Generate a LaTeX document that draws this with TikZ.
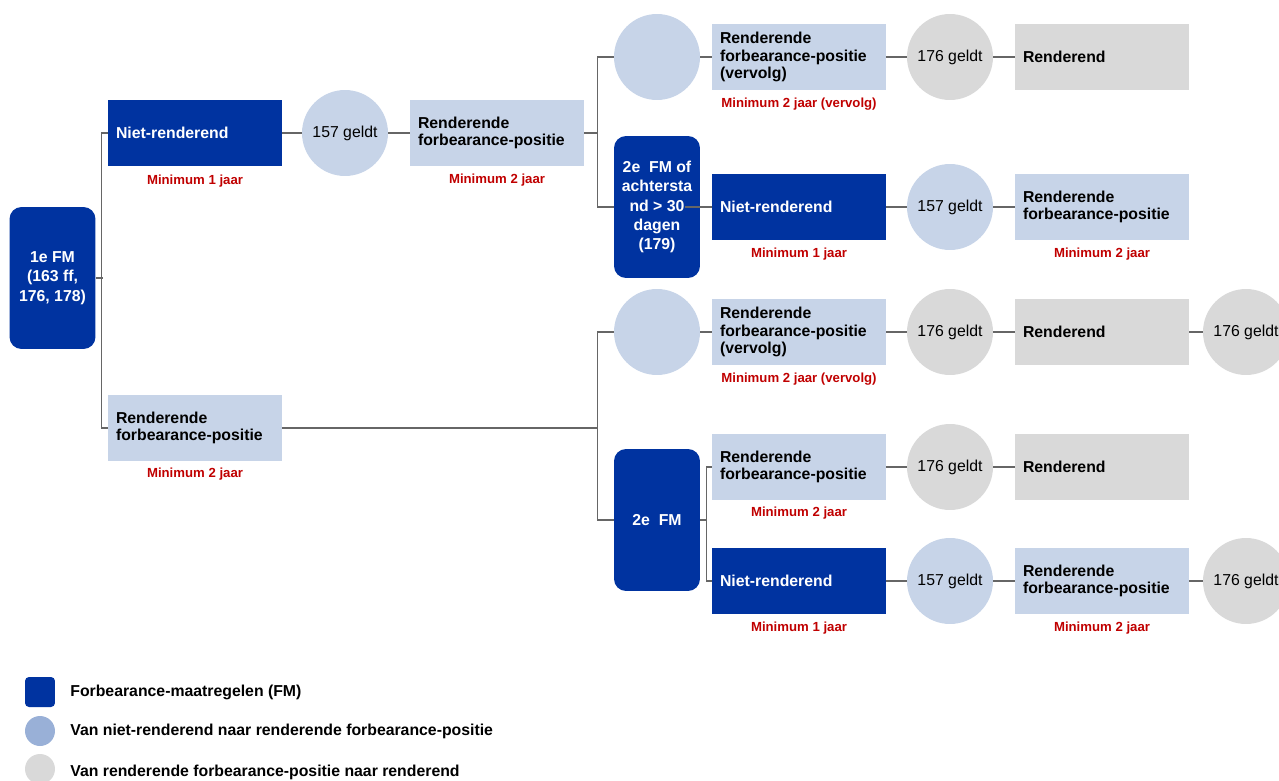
\documentclass[tikz,border=0pt]{standalone}
\usepackage{fontspec}
\setmainfont{Liberation Sans}
\usetikzlibrary{
  calc      % 坐标计算（红色标注的位置）
}
\definecolor{fmblauw}{HTML}{0033A0}
\definecolor{lichtblauw}{HTML}{C7D4E8}
\definecolor{legblauw}{HTML}{99B0D7}
\definecolor{lichtgrijs}{HTML}{D9D9D9}
\definecolor{minrood}{HTML}{C00000}
\definecolor{lijngrijs}{HTML}{666666}

\begin{document}
\begin{tikzpicture}[x=0.02cm, y=-0.02cm,
  fmvak/.style={fill=fmblauw, rounded corners=0.24cm, text=white, align=center,
    minimum width=1.72cm, minimum height=2.84cm, inner sep=0pt,
    font=\bfseries\fontsize{9}{11}\selectfont},
  vak/.style={minimum width=3.48cm, minimum height=1.34cm, text width=3.16cm,
    inner xsep=0.16cm, inner ysep=0pt, align=left,
    font=\bfseries\fontsize{9}{9.8}\selectfont},
  nrvak/.style={vak, fill=fmblauw, text=white},
  rfpvak/.style={vak, fill=lichtblauw},
  rendvak/.style={vak, fill=lichtgrijs},
  cirkel/.style={circle, minimum size=1.72cm, inner sep=0pt,
    font=\fontsize{9}{11}\selectfont},
  blauwcirkel/.style={cirkel, fill=lichtblauw},
  grijscirkel/.style={cirkel, fill=lichtgrijs},
  minlab/.style={text=minrood, font=\bfseries\fontsize{7.5}{9}\selectfont},
  legtekst/.style={anchor=west, inner sep=0pt, font=\bfseries\fontsize{9}{11}\selectfont},
  lijn/.style={draw=lijngrijs, line width=0.9pt}]

  % 画布大小与裁剪（像素坐标，y 轴向下）
  \useasboundingbox (0,0) rectangle (1279,781);
  \clip (0,0) rectangle (1279,781);

  % 1. 第一次 FM
  \node[fmvak] (fm1) at (52.5,278) {1e FM\\(163 ff,\\176, 178)};

  % 2. 上分支：不良 -> 157 -> 履约
  \node[nrvak] (nr1) at (195,133) {Niet-renderend};
  \node[minlab] at ($(nr1.south)+(0,14)$) {Minimum 1 jaar};
  \node[blauwcirkel] (c157a) at (345,133) {157 geldt};
  \node[rfpvak] (rfp1) at (497,133) {Renderende\\forbearance-positie};
  \node[minlab] at ($(rfp1.south)+(0,13)$) {Minimum 2 jaar};

  \node[blauwcirkel] (cleegA) at (657,57) {};
  \node[rfpvak] (rfpv1) at (799,57) {Renderende\\forbearance-positie\\(vervolg)};
  \node[minlab] at ($(rfpv1.south)+(0,13)$) {Minimum 2 jaar (vervolg)};
  \node[grijscirkel] (c176a) at (950,57) {176 geldt};
  \node[rendvak] (rend1) at (1102,57) {Renderend};

  \node[fmvak] (fm2a) at (657,207) {2e~~FM of\\achtersta\\nd > 30\\dagen\\(179)};
  \node[nrvak] (nr2) at (799,207) {Niet-renderend};
  \node[minlab] at ($(nr2.south)+(0,13)$) {Minimum 1 jaar};
  \node[blauwcirkel] (c157b) at (950,207) {157 geldt};
  \node[rfpvak] (rfp3) at (1102,207) {Renderende\\forbearance-positie};
  \node[minlab] at ($(rfp3.south)+(0,13)$) {Minimum 2 jaar};

  % 3. 下分支：履约
  \node[rfpvak] (rfp2) at (195,428) {Renderende\\forbearance-positie};
  \node[minlab] at ($(rfp2.south)+(0,12)$) {Minimum 2 jaar};

  \node[blauwcirkel] (cleegB) at (657,332) {};
  \node[rfpvak] (rfpv2) at (799,332) {Renderende\\forbearance-positie\\(vervolg)};
  \node[minlab] at ($(rfpv2.south)+(0,13)$) {Minimum 2 jaar (vervolg)};
  \node[grijscirkel] (c176b) at (950,332) {176 geldt};
  \node[rendvak] (rend2) at (1102,332) {Renderend};
  \node[grijscirkel] (c176c) at (1246,332) {176 geldt};

  \node[fmvak] (fm2b) at (657,520) {2e~~FM};
  \node[rfpvak] (rfp4) at (799,467) {Renderende\\forbearance-positie};
  \node[minlab] at ($(rfp4.south)+(0,12)$) {Minimum 2 jaar};
  \node[grijscirkel] (c176d) at (950,467) {176 geldt};
  \node[rendvak] (rend3) at (1102,467) {Renderend};

  \node[nrvak] (nr3) at (799,581) {Niet-renderend};
  \node[minlab] at ($(nr3.south)+(0,13)$) {Minimum 1 jaar};
  \node[blauwcirkel] (c157c) at (950,581) {157 geldt};
  \node[rfpvak] (rfp5) at (1102,581) {Renderende\\forbearance-positie};
  \node[minlab] at ($(rfp5.south)+(0,13)$) {Minimum 2 jaar};
  \node[grijscirkel] (c176e) at (1246,581) {176 geldt};

  % 4. 连接线
  \draw[lijn] (fm1.east) -- ++(7,0);
  \draw[lijn] (nr1.west) -- ++(-6,0) |- (rfp2.west);
  \draw[lijn] (nr1) -- (c157a) -- (rfp1);
  \draw[lijn] (rfp1.east) -- ++(14,0);
  \draw[lijn] (cleegA.west) -- ++(-16,0) |- (fm2a.west);
  \draw[lijn] (cleegA) -- (rfpv1) -- (c176a) -- (rend1);
  \draw[lijn] ([xshift=-0.3cm]fm2a.east) -- (nr2.west);
  \draw[lijn] (nr2) -- (c157b) -- (rfp3);

  \draw[lijn] (rfp2.east) -- ++(316,0);
  \draw[lijn] (cleegB.west) -- ++(-16,0) |- (fm2b.west);
  \draw[lijn] (cleegB) -- (rfpv2) -- (c176b) -- (rend2) -- (c176c);
  \draw[lijn] (fm2b.east) -- ++(7,0);
  \draw[lijn] (rfp4.west) -- ++(-5,0) |- (nr3.west);
  \draw[lijn] (rfp4) -- (c176d) -- (rend3);
  \draw[lijn] (nr3) -- (c157c) -- (rfp5) -- (c176e);

  % 5. 图例
  \node[fill=fmblauw, rounded corners=0.08cm, minimum size=0.6cm, inner sep=0pt] (lgfm) at (40,692) {};
  \node[legtekst] (lgfmt) at (70,692) {Forbearance-maatregelen (FM)};
  \node[circle, fill=legblauw, minimum size=0.6cm, inner sep=0pt] (lgblauw) at (40,731) {};
  \node[legtekst] (lgblauwt) at (70,731) {Van niet-renderend naar renderende forbearance-positie};
  \node[circle, fill=lichtgrijs, minimum size=0.6cm, inner sep=0pt] (lggrijs) at (40,769) {};
  \node[legtekst] (lggrijst) at (70,772) {Van renderende forbearance-positie naar renderend};

\end{tikzpicture}
\end{document}
